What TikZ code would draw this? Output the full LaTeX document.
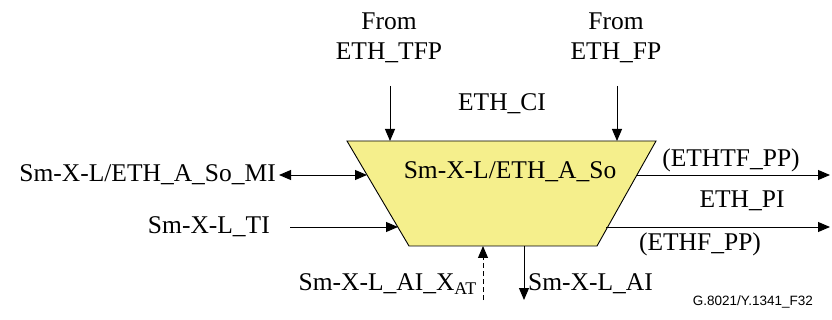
\documentclass[tikz,border=0pt]{standalone}
\usepackage{fontspec}
\setmainfont{Liberation Serif}
\newfontfamily\figfont{Liberation Sans}
\usetikzlibrary{arrows.meta}
\definecolor{boxyellow}{RGB}{245,239,140}
\tikzset{
  lbl/.style={inner sep=0pt, font=\fontsize{25.5}{30}\selectfont},
  sig/.style={line width=0.9pt, -{Triangle[length=12pt,width=10pt]}},
  bisig/.style={line width=0.9pt, {Triangle[length=12pt,width=10pt]}-{Triangle[length=12pt,width=10pt]}},
}
\begin{document}
\begin{tikzpicture}[x=1pt,y=-1pt]
    \useasboundingbox (0,0) rectangle (832,320);
    % adaptation function
    \coordinate (tl) at (347,141);
    \coordinate (tr) at (656,141);
    \coordinate (br) at (597,246);
    \coordinate (bl) at (409,246);
    \draw[line width=0.9pt, fill=boxyellow] (tl) -- (tr) -- (br) -- (bl) -- cycle;
    \node[lbl] (fn) at (510,172) {Sm-X-L/ETH\_A\_So};
    % ETH_CI from above
    \node[lbl, align=center] (tfp) at (389,38) {From\\ETH\_TFP};
    \node[lbl, align=center] (fp) at (616,38) {From\\ETH\_FP};
    \node[lbl] (ci) at (502,104) {ETH\_CI};
    \coordinate (tfpin) at (390,141);
    \coordinate (fpin) at (617,141);
    \draw[sig] (tfpin |- 0,86) -- (tfpin);
    \draw[sig] (fpin |- 0,86) -- (fpin);
    % management and timing
    \node[lbl, anchor=east] (mi) at (276,175) {Sm-X-L/ETH\_A\_So\_MI};
    \node[lbl, anchor=east] (ti) at (270,227) {Sm-X-L\_TI};
    \coordinate (miin) at (367,175);
    \coordinate (tiin) at (398,227);
    \draw[bisig] (mi.east) ++(3,0) -- (miin);
    \draw[sig] (ti.east) ++(20,0) -- (tiin);
    % ETH_PI out
    \coordinate (ppout) at (636,175);
    \coordinate (ppend) at (830,175);
    \coordinate (fout) at (606,227);
    \coordinate (fend) at (830,227);
    \draw[sig] (ppout) -- (ppend);
    \draw[sig] (fout) -- (fend);
    \node[lbl] (tfpp) at (731,160) {(ETHTF\_PP)};
    \node[lbl] (pi) at (742,201) {ETH\_PI};
    \node[lbl] (fpp) at (700,244) {(ETHF\_PP)};
    % AI
    \coordinate (xin) at (483,246);
    \coordinate (aiout) at (524,246);
    \coordinate (xstart) at (483,300);
    \coordinate (aiend) at (524,300);
    \draw[sig, dash pattern=on 5pt off 3pt] (xstart) -- (xin);
    \draw[sig] (aiout) -- (aiend);
    \node[lbl, anchor=east] (xat) at (477,284) {Sm-X-L\_AI\_X\textsubscript{AT}};
    \node[lbl, anchor=west] (ai) at (528,284) {Sm-X-L\_AI};
    \node[inner sep=0pt, anchor=east, font=\figfont\fontsize{13.5}{16}\selectfont] (fig) at (813,302) {G.8021/Y.1341\_F32};
\end{tikzpicture}
\end{document}
